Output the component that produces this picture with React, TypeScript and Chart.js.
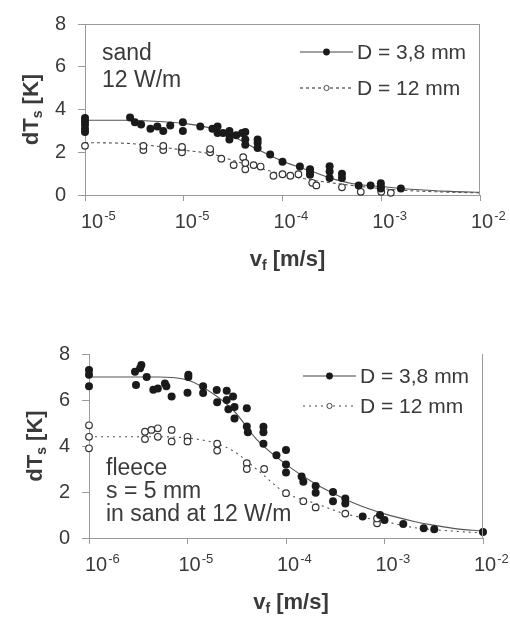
import React, { useEffect, useRef } from "react";
import { Chart, registerables } from "chart.js";

Chart.register(...registerables);

const FONT = '"Liberation Sans", Arial, sans-serif';
const TEXT = "#3a3a3a";
const AXIS = "#9a9a9a";

// ---- shared axis values ----
const X_TICKS = [1e-6, 1e-5, 1e-4, 1e-3, 1e-2];
const Y_TICKS_STEP = 2;
const TOP_TICK_EXPONENTS = ["-5", "-5", "-4", "-3", "-2"];
const BOTTOM_TICK_EXPONENTS = ["-6", "-5", "-4", "-3", "-2"];

const LEGEND_LABELS = ["D = 3,8 mm", "D = 12 mm"];
const TOP_NOTE = ["sand", "12 W/m"];
const BOTTOM_NOTE = ["fleece", "s = 5 mm", "in sand at 12 W/m"];

// ---- top panel (sand) ----
const TOP_D38_V = [
  1e-6, 1e-6, 1e-6, 1e-6, 1e-6, 2.86e-6, 3.2e-6, 3.7e-6, 4.6e-6, 5.4e-6, 6.2e-6, 7.3e-6,
  9.8e-6, 9.8e-6, 1.47e-5, 1.95e-5, 2.2e-5, 2.2e-5, 2.5e-5, 2.9e-5, 2.9e-5, 2.9e-5, 3.4e-5,
  3.9e-5, 4.2e-5, 4.2e-5, 4.2e-5, 5.6e-5, 5.6e-5, 5.6e-5, 7.5e-5, 1.0e-4, 1.5e-4, 1.9e-4,
  1.9e-4, 1.9e-4, 3.0e-4, 3.0e-4, 3.0e-4, 4.0e-4, 4.0e-4, 5.9e-4, 7.8e-4, 9.9e-4, 9.9e-4,
  9.9e-4, 1.58e-3,
];
const TOP_D38_DT = [
  3.6, 3.45, 3.3, 3.1, 2.95, 3.63, 3.4, 3.3, 3.1, 3.2, 3.0, 3.25,
  3.4, 3.0, 3.2, 3.1, 3.2, 2.9, 2.9, 3.0, 2.8, 2.6, 2.8,
  2.9, 2.95, 2.6, 2.35, 2.6, 2.45, 2.2, 1.9, 1.55, 1.33, 1.2,
  1.1, 0.95, 1.35, 1.1, 0.8, 1.0, 0.8, 0.45, 0.45, 0.55, 0.4,
  0.3, 0.3,
];
const TOP_D12_V = [
  1e-6, 3.9e-6, 3.9e-6, 6.2e-6, 6.2e-6, 9.6e-6, 9.6e-6, 9.6e-6, 1.85e-5, 1.85e-5, 2.4e-5,
  3.2e-5, 4.0e-5, 4.2e-5, 4.2e-5, 5.1e-5, 6.0e-5, 8.1e-5, 1.0e-4, 1.2e-4, 1.45e-4, 2.0e-4,
  2.2e-4, 4.0e-4, 6.2e-4, 1.0e-3, 1.25e-3,
];
const TOP_D12_DT = [
  2.3, 2.1, 2.3, 2.1, 2.3, 2.1, 2.0, 2.25, 2.0, 2.15, 1.7,
  1.4, 1.77, 1.2, 1.5, 1.4, 1.33, 0.9, 0.97, 0.9, 0.97, 0.57,
  0.45, 0.36, 0.15, 0.15, 0.1,
];
const TOP_FIT38_V = [1e-6, 2.5e-6, 5e-6, 1e-5, 2e-5, 3e-5, 5e-5, 1e-4, 2e-4, 3e-4, 5e-4, 1e-3, 2e-3, 5e-3, 1e-2];
const TOP_FIT38_DT = [3.5, 3.5, 3.45, 3.35, 3.1, 2.8, 2.25, 1.58, 1.1, 0.8, 0.54, 0.4, 0.27, 0.17, 0.13];
const TOP_FIT12_V = [1e-6, 3e-6, 1e-5, 2e-5, 3e-5, 5e-5, 1e-4, 2e-4, 5e-4, 1e-3, 2e-3, 5e-3, 1e-2];
const TOP_FIT12_DT = [2.45, 2.4, 2.1, 1.9, 1.65, 1.35, 0.97, 0.7, 0.45, 0.3, 0.2, 0.13, 0.1];

// ---- bottom panel (fleece) ----
const BOT_D38_V = [
  1e-6, 1e-6, 1e-6, 2.93e-6, 3.0e-6, 3.4e-6, 3.3e-6, 3.85e-6, 4.5e-6, 5.0e-6, 5.9e-6, 6.1e-6,
  6.9e-6, 1.02e-5, 1.02e-5, 1.0e-5, 1.44e-5, 1.44e-5, 1.98e-5, 2.0e-5, 2.5e-5, 2.5e-5, 2.6e-5,
  2.9e-5, 3.0e-5, 3.0e-5, 4.0e-5, 4.0e-5, 4.1e-5, 5.9e-5, 5.9e-5, 5.9e-5, 8.0e-5, 1.0e-4,
  1.0e-4, 1.0e-4, 1.44e-4, 1.5e-4, 2.0e-4, 2.0e-4, 3.0e-4, 3.0e-4, 4.0e-4, 4.0e-4, 6.0e-4,
  9.0e-4, 1.0e-3, 1.55e-3, 2.5e-3, 3.2e-3, 1e-2,
];
const BOT_D38_DT = [
  7.3, 7.1, 6.6, 7.23, 6.65, 7.52, 7.38, 7.0, 6.45, 6.5, 6.72, 6.6,
  6.15, 7.0, 7.1, 6.32, 6.6, 6.3, 6.43, 5.9, 6.4, 6.0, 5.6,
  6.15, 5.7, 5.2, 5.64, 4.85, 4.6, 4.84, 4.6, 4.1, 3.6, 3.83,
  3.2, 2.85, 2.67, 2.45, 2.26, 1.97, 2.0, 1.6, 1.72, 1.5, 0.93,
  1.0, 0.78, 0.61, 0.42, 0.38, 0.26,
];
const BOT_D12_V = [
  1e-6, 1e-6, 1e-6, 3.7e-6, 3.7e-6, 4.3e-6, 5.0e-6, 5.0e-6, 6.9e-6, 6.9e-6, 1.0e-5, 1.0e-5,
  2.0e-5, 2.0e-5, 4.0e-5, 4.0e-5, 6.0e-5, 1.0e-4, 1.5e-4, 2.0e-4, 4.0e-4, 8.4e-4, 8.4e-4,
];
const BOT_D12_DT = [
  4.9, 4.4, 3.9, 4.62, 4.3, 4.7, 4.4, 4.77, 4.7, 4.2, 4.4, 4.2,
  4.1, 3.8, 3.25, 3.0, 3.0, 1.95, 1.6, 1.33, 1.06, 0.64, 0.85,
];
const BOT_FIT38_V = [1e-6, 5e-6, 1e-5, 2e-5, 3e-5, 5e-5, 1e-4, 2e-4, 3e-4, 5e-4, 1e-3, 2e-3, 3e-3, 5e-3, 1e-2];
const BOT_FIT38_DT = [7.0, 7.0, 6.87, 6.15, 5.5, 4.3, 3.2, 2.35, 1.95, 1.5, 1.05, 0.72, 0.57, 0.42, 0.3];
const BOT_FIT12_V = [1e-6, 5e-6, 1e-5, 2e-5, 3e-5, 5e-5, 1e-4, 2e-4, 4e-4, 1e-3, 2e-3, 5e-3, 1e-2];
const BOT_FIT12_DT = [4.4, 4.4, 4.35, 4.1, 3.75, 3.0, 1.95, 1.5, 1.05, 0.72, 0.45, 0.3, 0.22];

const pts = (v: number[], d: number[]) => v.map((x, i) => ({ x, y: d[i] }));

type DecorOpts = {
  exponents: string[];
  frameTop: boolean;
  legendY: number[];
  noteLines: string[];
  noteY: number[];
  dash12: number[];
};

const decorPlugin = {
  id: "decor",
  afterDraw(chart: any, _args: any, o: DecorOpts) {
    const { ctx, chartArea: a } = chart;
    const xs = chart.scales.x;
    ctx.save();
    // frame
    ctx.strokeStyle = AXIS;
    ctx.lineWidth = 1;
    ctx.setLineDash([]);
    ctx.beginPath();
    if (o.frameTop) {
      ctx.moveTo(a.left, Math.round(a.top) + 0.5);
      ctx.lineTo(a.right, Math.round(a.top) + 0.5);
    }
    ctx.moveTo(Math.round(a.right) - 0.5, a.top);
    ctx.lineTo(Math.round(a.right) - 0.5, a.bottom);
    ctx.stroke();

    // x tick labels 10^n
    ctx.fillStyle = TEXT;
    ctx.textBaseline = "middle";
    ctx.textAlign = "left";
    X_TICKS.forEach((v, i) => {
      const px = xs.getPixelForValue(v);
      ctx.font = `20px ${FONT}`;
      const w = ctx.measureText("10").width;
      const x0 = i === 0 ? px - 4 : px - 9;
      ctx.fillText("10", x0, a.bottom + 27);
      ctx.font = `13px ${FONT}`;
      ctx.fillText(o.exponents[i], x0 + w + 1, a.bottom + 21);
    });

    // x title: v_f [m/s]
    {
      const big = `bold 22px ${FONT}`;
      const small = `bold 14px ${FONT}`;
      ctx.font = big;
      const w1 = ctx.measureText("v").width;
      const w3 = ctx.measureText(" [m/s]").width;
      ctx.font = small;
      const w2 = ctx.measureText("f").width;
      const total = w1 + w2 + w3;
      const cx = (a.left + a.right) / 2 + 5;
      const y = a.bottom + 65;
      let x = cx - total / 2;
      ctx.font = big;
      ctx.fillText("v", x, y);
      x += w1;
      ctx.font = small;
      ctx.fillText("f", x, y + 6);
      x += w2;
      ctx.font = big;
      ctx.fillText(" [m/s]", x, y);
    }

    // y title: dT_s [K]
    {
      const big = `bold 22px ${FONT}`;
      const small = `bold 14px ${FONT}`;
      ctx.save();
      ctx.translate(a.left - 53, (a.top + a.bottom) / 2);
      ctx.rotate(-Math.PI / 2);
      ctx.font = big;
      const w1 = ctx.measureText("dT").width;
      const w3 = ctx.measureText(" [K]").width;
      ctx.font = small;
      const w2 = ctx.measureText("s").width;
      let x = -(w1 + w2 + w3) / 2;
      ctx.font = big;
      ctx.fillText("dT", x, 0);
      x += w1;
      ctx.font = small;
      ctx.fillText("s", x, 6);
      x += w2;
      ctx.font = big;
      ctx.fillText(" [K]", x, 0);
      ctx.restore();
    }

    // legend
    const lx1 = a.right - 180;
    const lx2 = a.right - 127;
    const mid = (lx1 + lx2) / 2;
    o.legendY.forEach((dy, i) => {
      const y = a.top + dy;
      ctx.strokeStyle = "#444";
      ctx.lineWidth = 1.2;
      ctx.setLineDash(i === 0 ? [] : o.dash12);
      ctx.beginPath();
      ctx.moveTo(lx1, y);
      ctx.lineTo(lx2, y);
      ctx.stroke();
      ctx.setLineDash([]);
      ctx.beginPath();
      if (i === 0) {
        ctx.fillStyle = "#1a1a1a";
        ctx.arc(mid, y, 3.4, 0, Math.PI * 2);
        ctx.fill();
      } else {
        ctx.fillStyle = "#fff";
        ctx.arc(mid, y, 2.6, 0, Math.PI * 2);
        ctx.fill();
        ctx.lineWidth = 1;
        ctx.strokeStyle = "#444";
        ctx.stroke();
      }
      ctx.fillStyle = TEXT;
      ctx.font = `21px ${FONT}`;
      ctx.fillText(LEGEND_LABELS[i], a.right - 123, y + 1);
    });

    // note text
    ctx.fillStyle = TEXT;
    ctx.font = `23px ${FONT}`;
    o.noteLines.forEach((t, i) => {
      ctx.fillText(t, a.left + 17, a.top + o.noteY[i]);
    });
    ctx.restore();
  },
};

type PanelProps = {
  width: number;
  height: number;
  area: { left: number; right: number; top: number; bottom: number };
  d38: { x: number; y: number }[];
  d12: { x: number; y: number }[];
  fit38: { x: number; y: number }[];
  fit12: { x: number; y: number }[];
  decor: DecorOpts;
};

function Panel(p: PanelProps) {
  const ref = useRef<HTMLCanvasElement | null>(null);
  useEffect(() => {
    if (!ref.current) return;
    const { area } = p;
    const chart = new Chart(ref.current, {
      type: "scatter",
      data: {
        datasets: [
          {
            data: p.d38,
            order: 0,
            pointRadius: 4,
            pointBackgroundColor: "#1a1a1a",
            pointBorderWidth: 0,
            showLine: false,
            clip: false,
          } as any,
          {
            data: p.d12,
            order: 0,
            pointRadius: 3.3,
            pointBackgroundColor: "#ffffff",
            pointBorderColor: "#333",
            pointBorderWidth: 1.2,
            showLine: false,
            clip: false,
          } as any,
          {
            data: p.fit38,
            order: 1,
            showLine: true,
            pointRadius: 0,
            borderColor: "#555",
            borderWidth: 1.1,
            cubicInterpolationMode: "monotone",
            clip: false,
          } as any,
          {
            data: p.fit12,
            order: 1,
            showLine: true,
            pointRadius: 0,
            borderColor: "#555",
            borderWidth: 1.1,
            borderDash: p.decor.dash12,
            cubicInterpolationMode: "monotone",
            clip: false,
          } as any,
        ],
      },
      options: {
        responsive: false,
        animation: false,
        events: [],
        layout: {
          padding: {
            left: 0,
            top: area.top,
            right: p.width - area.right,
            bottom: 0,
          },
        },
        plugins: {
          legend: { display: false },
          tooltip: { enabled: false },
          decor: p.decor,
        } as any,
        scales: {
          x: {
            type: "logarithmic",
            min: X_TICKS[0],
            max: X_TICKS[X_TICKS.length - 1],
            ticks: { display: false },
            afterBuildTicks: (s: any) => {
              s.ticks = X_TICKS.map((v) => ({ value: v }));
            },
            afterFit: (s: any) => {
              s.height = p.height - area.bottom;
            },
            grid: { drawOnChartArea: false, drawTicks: true, tickLength: 6, color: AXIS },
            border: { display: true, color: AXIS },
          },
          y: {
            min: 0,
            max: 8,
            ticks: {
              stepSize: Y_TICKS_STEP,
              padding: 12,
              color: TEXT,
              font: { family: FONT, size: 20 },
            },
            afterFit: (s: any) => {
              s.width = area.left;
            },
            grid: { drawOnChartArea: false, drawTicks: true, tickLength: 7, color: AXIS },
            border: { display: true, color: AXIS },
          },
        },
      } as any,
      plugins: [decorPlugin as any],
    });
    return () => chart.destroy();
  }, []);
  return <canvas ref={ref} width={p.width} height={p.height} style={{ display: "block" }} />;
}

export default function App() {
  return (
    <div style={{ position: "absolute", left: 0, top: 0, width: 510, height: 619, background: "#fff" }}>
      <Panel
        width={510}
        height={300}
        area={{ left: 85, right: 480, top: 14, bottom: 195 }}
        d38={pts(TOP_D38_V, TOP_D38_DT)}
        d12={pts(TOP_D12_V, TOP_D12_DT)}
        fit38={pts(TOP_FIT38_V, TOP_FIT38_DT)}
        fit12={pts(TOP_FIT12_V, TOP_FIT12_DT)}
        decor={{
          exponents: TOP_TICK_EXPONENTS,
          frameTop: true,
          legendY: [28, 64],
          noteLines: TOP_NOTE,
          noteY: [30, 57],
          dash12: [3, 3],
        }}
      />
      <Panel
        width={510}
        height={319}
        area={{ left: 89, right: 483, top: 54, bottom: 238 }}
        d38={pts(BOT_D38_V, BOT_D38_DT)}
        d12={pts(BOT_D12_V, BOT_D12_DT)}
        fit38={pts(BOT_FIT38_V, BOT_FIT38_DT)}
        fit12={pts(BOT_FIT12_V, BOT_FIT12_DT)}
        decor={{
          exponents: BOTTOM_TICK_EXPONENTS,
          frameTop: false,
          legendY: [22, 52],
          noteLines: BOTTOM_NOTE,
          noteY: [115, 138, 161],
          dash12: [2, 4],
        }}
      />
    </div>
  );
}
